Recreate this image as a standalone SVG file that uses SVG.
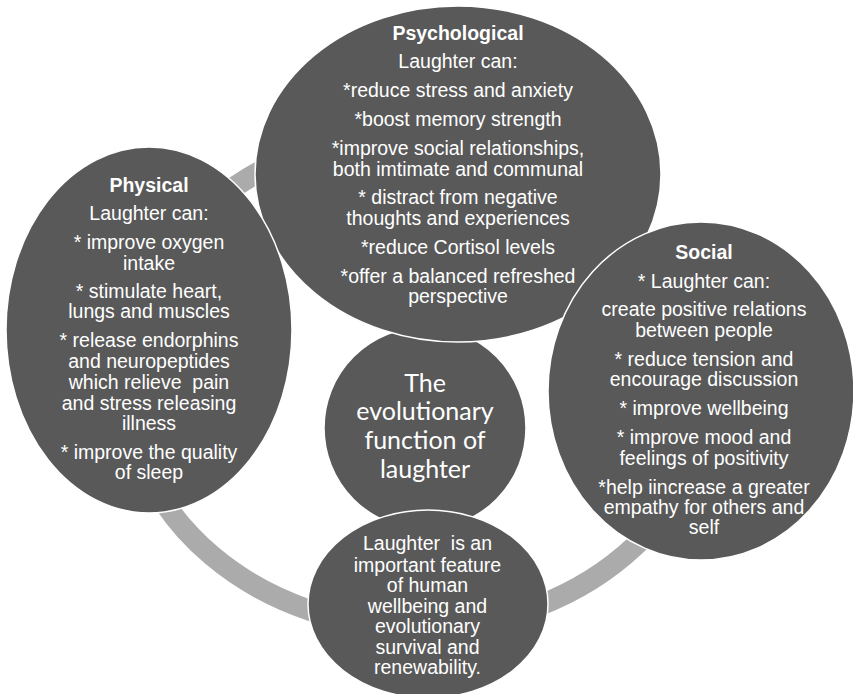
<svg xmlns="http://www.w3.org/2000/svg" width="853" height="694" viewBox="0 0 853 694">
<style>
.node{fill:#595959;stroke:#ffffff;stroke-width:1.5}
.ring{fill:none;stroke:#ababab;stroke-width:21}
.t{font-family:"Liberation Sans",Arial,sans-serif;font-size:19.5px;fill:#ffffff;text-anchor:middle}
.b{font-weight:bold}
.pre{white-space:pre}
.c{font-family:Lato,"Open Sans",sans-serif;font-size:25px;fill:#ffffff;text-anchor:middle}
</style>
<rect width="853" height="694" fill="#ffffff"/>
<g id="connectors">
<path class="ring" d="M126,380 A292,248 0 0 1 418,132 C560,132 690,280 710,380 A292,248 0 0 1 418,628 A292,248 0 0 1 126,380 Z"/>
</g>
<g id="center">
<circle class="node" cx="425" cy="428" r="101"/>
<text class="c" x="425" y="392">The</text>
<text class="c" x="425" y="420">evolutionary</text>
<text class="c" x="425" y="449">function of</text>
<text class="c" x="425" y="478">laughter</text>
</g>
<g id="psychological">
<ellipse class="node" cx="458" cy="174" rx="203" ry="168"/>
<text class="t b" x="458" y="40">Psychological</text>
<text class="t" x="458" y="68">Laughter can:</text>
<text class="t" x="458" y="97">*reduce stress and anxiety</text>
<text class="t" x="458" y="126">*boost memory strength</text>
<text class="t" x="458" y="155">*improve social relationships,</text>
<text class="t" x="458" y="175.5">both imtimate and communal</text>
<text class="t" x="458" y="204">* distract from negative</text>
<text class="t" x="458" y="225">thoughts and experiences</text>
<text class="t" x="458" y="254">*reduce Cortisol levels</text>
<text class="t" x="458" y="282.5">*offer a balanced refreshed</text>
<text class="t" x="458" y="303">perspective</text>
</g>
<g id="social">
<ellipse class="node" cx="701" cy="391" rx="153" ry="169"/>
<text class="t b" x="704" y="259">Social</text>
<text class="t" x="704" y="288">* Laughter can:</text>
<text class="t" x="704" y="316">create positive relations</text>
<text class="t" x="704" y="336.5">between people</text>
<text class="t" x="704" y="365.5">* reduce tension and</text>
<text class="t" x="704" y="386">encourage discussion</text>
<text class="t" x="704" y="415">* improve wellbeing</text>
<text class="t" x="704" y="444">* improve mood and</text>
<text class="t" x="704" y="464.5">feelings of positivity</text>
<text class="t" x="704" y="493.5">*help iincrease a greater</text>
<text class="t" x="704" y="514">empathy for others and</text>
<text class="t" x="704" y="534">self</text>
</g>
<g id="physical">
<ellipse class="node" cx="149" cy="330" rx="143" ry="183"/>
<text class="t b" x="149" y="192">Physical</text>
<text class="t" x="149" y="220">Laughter can:</text>
<text class="t" x="149" y="249">* improve oxygen</text>
<text class="t" x="149" y="269.5">intake</text>
<text class="t" x="149" y="298">* stimulate heart,</text>
<text class="t" x="149" y="318">lungs and muscles</text>
<text class="t" x="149" y="347">* release endorphins</text>
<text class="t" x="149" y="367.5">and neuropeptides</text>
<text class="t pre" x="149" y="388.5">which relieve  pain</text>
<text class="t" x="149" y="409.5">and stress releasing</text>
<text class="t" x="149" y="429.5">illness</text>
<text class="t" x="149" y="458.5">* improve the quality</text>
<text class="t" x="149" y="478.5">of sleep</text>
</g>
<g id="summary">
<ellipse class="node" cx="428" cy="604" rx="120" ry="94"/>
<text class="t pre" x="427.5" y="550">Laughter  is an</text>
<text class="t" x="427.5" y="571.5">important feature</text>
<text class="t" x="427.5" y="592">of human</text>
<text class="t" x="427.5" y="613">wellbeing and</text>
<text class="t" x="427.5" y="633">evolutionary</text>
<text class="t" x="427.5" y="653.5">survival and</text>
<text class="t" x="427.5" y="673.5">renewability.</text>
</g>
</svg>
